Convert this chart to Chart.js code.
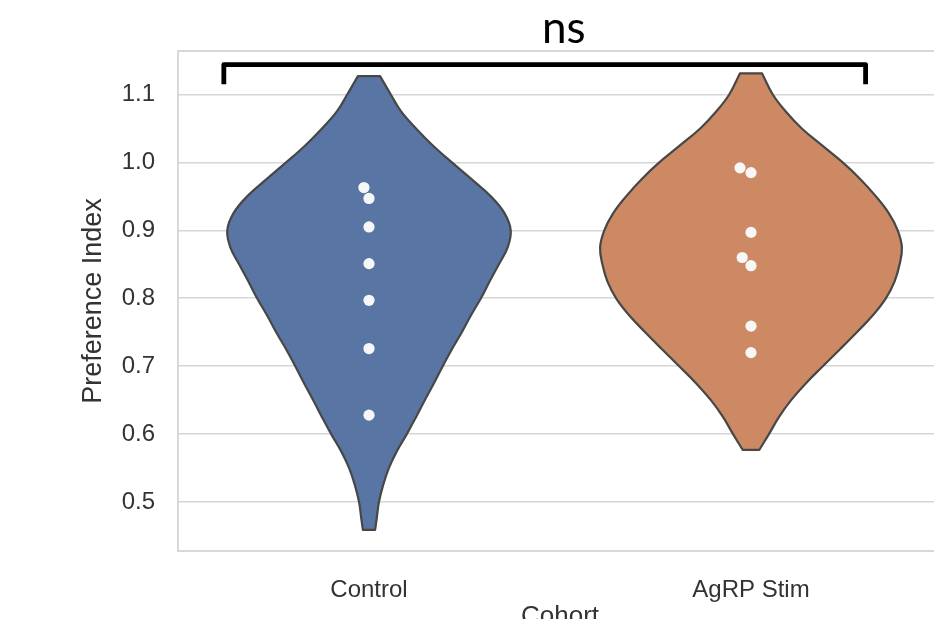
<!DOCTYPE html>
<html>
<head>
<meta charset="utf-8">
<script src="https://cdn.jsdelivr.net/npm/chart.js@4.4.1/dist/chart.umd.min.js"></script>
<style>
  html, body { margin: 0; padding: 0; background: #fff; overflow: hidden; }
  #wrap { width: 960px; height: 640px; }
</style>
</head>
<body>
<div id="wrap"><canvas id="grafico" width="960" height="640"></canvas></div>
<script>
const categorias = ["Control", "AgRP Stim"]
const yTicks = [0.5, 0.6, 0.7, 0.8, 0.9, 1.0, 1.1]

// individual animals
const controlValores = [0.963, 0.947, 0.905, 0.851, 0.797, 0.726, 0.628]
const agrpValores = [0.992, 0.985, 0.897, 0.860, 0.848, 0.759, 0.720]

// violin outline: y values (top -> bottom) and half widths in category units
const controlDensY = [1.127, 1.10, 1.075, 1.05, 1.025, 1.00, 0.975, 0.95, 0.925, 0.90, 0.875, 0.85, 0.825, 0.80, 0.775, 0.75, 0.725, 0.70, 0.675, 0.65, 0.625, 0.60, 0.575, 0.55, 0.525, 0.50, 0.475, 0.459]
const controlDensW = [0.029, 0.057, 0.084, 0.123, 0.167, 0.217, 0.269, 0.319, 0.355, 0.371, 0.363, 0.340, 0.316, 0.293, 0.267, 0.243, 0.217, 0.193, 0.170, 0.146, 0.123, 0.099, 0.073, 0.052, 0.037, 0.026, 0.020, 0.016]
const agrpDensY = [1.131, 1.10, 1.075, 1.05, 1.025, 1.00, 0.975, 0.95, 0.925, 0.90, 0.875, 0.85, 0.825, 0.80, 0.775, 0.75, 0.725, 0.70, 0.675, 0.65, 0.625, 0.60, 0.577]
const agrpDensW = [0.029, 0.057, 0.091, 0.133, 0.186, 0.240, 0.287, 0.327, 0.361, 0.384, 0.395, 0.389, 0.376, 0.353, 0.319, 0.277, 0.233, 0.188, 0.144, 0.105, 0.073, 0.047, 0.022]

// significance bracket (data units)
const bracketX = [-0.38, 1.30]
const bracketY = 1.144
const bracketPe = 1.115
const bracketTexto = "ns"

const fonte = '"Liberation Sans", Arial, sans-serif'

// one half of the violin; side = +1 right, -1 left
function metade(label, centro, ys, ws, lado, cor, par) {
  const data = []
  if (lado > 0) {
    for (let i = ys.length - 1; i >= 0; i--) data.push({ x: centro + ws[i], y: ys[i] })
  } else {
    for (let i = 0; i < ys.length; i++) data.push({ x: centro - ws[i], y: ys[i] })
  }
  return {
    label: label,
    data: data,
    showLine: true,
    tension: 0.4,
    borderWidth: 0,
    pointRadius: 0,
    fill: false,
    violinFill: cor,
    violinPar: par,
    order: 2
  }
}

function pontos(label, valores, centro) {
  return {
    label: label,
    data: valores.map(v => ({ x: centro, y: v })),
    backgroundColor: "#f7f7f7",
    borderWidth: 0,
    pointRadius: 5.6,
    order: 1
  }
}

function tracar(ctx, pts, inicio) {
  if (inicio) ctx.moveTo(pts[0].x, pts[0].y)
  else ctx.lineTo(pts[0].x, pts[0].y)
  for (let i = 1; i < pts.length; i++) {
    const a = pts[i - 1]
    const b = pts[i]
    ctx.bezierCurveTo(a.cp2x, a.cp2y, b.cp1x, b.cp1y, b.x, b.y)
  }
}

const violinPlugin = {
  id: "violinFill",
  beforeDatasetDraw(chart, args) {
    const ds = chart.data.datasets[args.index]
    if (!ds.violinFill || ds.violinPar === undefined) return
    const direita = args.meta.dataset
    const esquerda = chart.getDatasetMeta(ds.violinPar).dataset
    direita.updateControlPoints(chart.chartArea, "x")
    esquerda.updateControlPoints(chart.chartArea, "x")
    const ctx = chart.ctx
    ctx.save()
    ctx.beginPath()
    tracar(ctx, direita.points, true)
    tracar(ctx, esquerda.points, false)
    ctx.closePath()
    ctx.fillStyle = ds.violinFill
    ctx.fill()
    ctx.strokeStyle = "#474747"
    ctx.lineWidth = 2.2
    ctx.lineJoin = "round"
    ctx.stroke()
    ctx.restore()
  }
}

const molduraPlugin = {
  id: "moldura",
  beforeDatasetsDraw(chart) {
    const { ctx, chartArea } = chart
    ctx.save()
    ctx.strokeStyle = "#cfcfcf"
    ctx.lineWidth = 1.6
    ctx.strokeRect(chartArea.left, chartArea.top, chartArea.right - chartArea.left, chartArea.bottom - chartArea.top)
    ctx.restore()
  }
}

const colchetePlugin = {
  id: "colchete",
  afterDraw(chart) {
    const { ctx } = chart
    const xs = chart.scales.x
    const ys = chart.scales.y
    const x0 = xs.getPixelForValue(bracketX[0])
    const x1 = xs.getPixelForValue(bracketX[1])
    const yt = ys.getPixelForValue(bracketY)
    const yb = ys.getPixelForValue(bracketPe)
    ctx.save()
    ctx.strokeStyle = "#000"
    ctx.lineWidth = 4.8
    ctx.lineJoin = "round"
    ctx.beginPath()
    ctx.moveTo(x0, yb)
    ctx.lineTo(x0, yt)
    ctx.lineTo(x1, yt)
    ctx.lineTo(x1, yb)
    ctx.stroke()
    ctx.fillStyle = "#000"
    ctx.font = '44px Lato, "Open Sans", sans-serif'
    ctx.textAlign = "center"
    ctx.textBaseline = "alphabetic"
    ctx.fillText(bracketTexto, xs.getPixelForValue(0.51), yt - 22)
    ctx.restore()
  }
}

const grafico = new Chart(document.getElementById("grafico"), {
  type: "scatter",
  data: {
    datasets: [
      pontos("Control pts", controlValores, 0),
      pontos("AgRP pts", agrpValores, 1),
      metade("Control", 0, controlDensY, controlDensW, 1, "#5975a4", 3),
      metade("Control L", 0, controlDensY, controlDensW, -1),
      metade("AgRP Stim", 1, agrpDensY, agrpDensW, 1, "#cc8963", 5),
      metade("AgRP Stim L", 1, agrpDensY, agrpDensW, -1)
    ]
  },
  options: {
    responsive: false,
    animation: false,
    layout: { padding: { top: 51, right: 18, left: 0, bottom: 0 } },
    plugins: {
      legend: { display: false },
      tooltip: { enabled: false }
    },
    scales: {
      x: {
        type: "linear",
        min: -0.5,
        max: 1.5,
        afterFit: s => { s.height = 89 },
        afterBuildTicks: s => { s.ticks = categorias.map((c, i) => ({ value: i })) },
        grid: { display: false },
        border: { display: false },
        ticks: {
          callback: v => categorias[v],
          color: "#333",
          padding: 17,
          font: { family: fonte, size: 24 },
          maxRotation: 0
        },
        title: {
          display: true,
          text: "Cohort",
          color: "#333",
          font: { family: fonte, size: 26 },
          padding: { bottom: 8 }
        }
      },
      y: {
        min: 0.428,
        max: 1.164,
        afterFit: s => { s.width = 178 },
        afterBuildTicks: s => { s.ticks = yTicks.map(v => ({ value: v })) },
        grid: { color: "#d6d6d6", lineWidth: 1.6, drawTicks: false },
        border: { display: false },
        ticks: {
          callback: v => v.toFixed(1),
          color: "#333",
          padding: 23,
          font: { family: fonte, size: 24 }
        },
        title: {
          display: true,
          text: "Preference Index",
          color: "#333",
          font: { family: fonte, size: 27 },
          padding: { top: 77 }
        }
      }
    }
  },
  plugins: [violinPlugin, molduraPlugin, colchetePlugin]
})

// swarm layout for the dots, like a beeswarm
function enxame(valores, centro, diam) {
  const xs = grafico.scales.x
  const ys = grafico.scales.y
  const cx = xs.getPixelForValue(centro)
  const ordem = valores.map((v, i) => i).sort((a, b) => valores[a] - valores[b])
  const colocados = []
  const saida = new Array(valores.length)
  for (const i of ordem) {
    const py = ys.getPixelForValue(valores[i])
    const cands = [0]
    for (const p of colocados) {
      const dy = Math.abs(py - p.py)
      if (dy < diam) {
        const dx = Math.sqrt(diam * diam - dy * dy)
        cands.push(p.dx - dx, p.dx + dx)
      }
    }
    cands.sort((a, b) => Math.abs(a) - Math.abs(b))
    const dx = cands.find(c => colocados.every(p => (c - p.dx) ** 2 + (py - p.py) ** 2 >= diam * diam - 0.01))
    colocados.push({ dx: dx, py: py })
    saida[i] = { x: xs.getValueForPixel(cx + dx), y: valores[i] }
  }
  return saida
}

grafico.data.datasets[0].data = enxame(controlValores, 0, 12)
grafico.data.datasets[1].data = enxame(agrpValores, 1, 12)
grafico.update("none")
</script>
</body>
</html>
